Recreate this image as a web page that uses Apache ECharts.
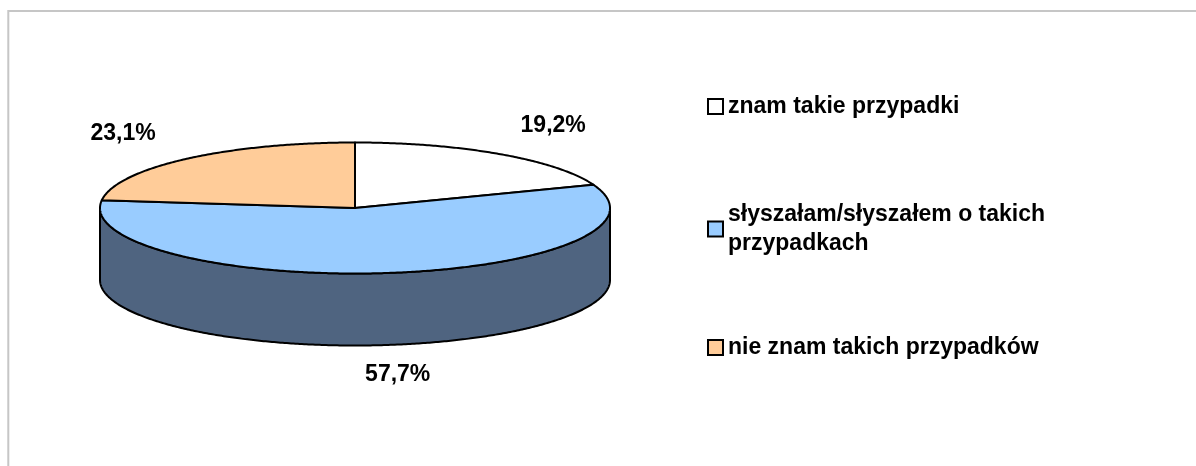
<!DOCTYPE html>
<html>
<head>
<meta charset="utf-8">
<style>
    html, body { margin: 0; padding: 0; background: #fff; }
    #chart { width: 1196px; height: 466px; }
</style>
</head>
<body>
<div id="chart"></div>
<script src="https://cdn.jsdelivr.net/npm/echarts@6/dist/echarts.min.js"></script>
<script>
// dane
const categories = ['znam takie przypadki', 'słyszałam/słyszałem o takich przypadkach', 'nie znam takich przypadków'];
const values = [19.2, 57.7, 23.1];
const valueLabels = ['19,2%', '57,7%', '23,1%'];

const topColors = ['#FFFFFF', '#99CCFF', '#FFCC99'];   // wierzch
const sideColors = ['#808080', '#4F6480', '#80664D'];  // bok
const FontFamily = '"Liberation Sans", Arial, sans-serif';
const FontSize = 23;

const chart = echarts.init(document.getElementById('chart'));

// geometria "3D" elipsy
const pie = { cx: 355, cy: 208, rx: 255, ry: 65.5, depth: 72 };
const total = values.reduce((a, b) => a + b, 0);

function sliceAngles(index) {
    let before = 0;
    for (let i = 0; i < index; i++) before += values[i];
    const start = 90 - before / total * 360;
    const end = start - values[index] / total * 360;
    return [start, end]; // stopnie, zgodnie z ruchem wskazówek
}

function pointAt(deg, dy) {
    const r = deg * Math.PI / 180;
    return [pie.cx + pie.rx * Math.cos(r), pie.cy - pie.ry * Math.sin(r) + (dy || 0)];
}

function arc(from, to, dy) {
    const pts = [];
    const n = Math.max(2, Math.ceil(Math.abs(to - from) * 2));
    for (let k = 0; k <= n; k++) pts.push(pointAt(from + (to - from) * k / n, dy));
    return pts;
}

const strokeStyle = { stroke: '#000', lineWidth: 2, lineJoin: 'round' };

function renderSlice(params, api) {
    const i = params.seriesIndex;
    const [start, end] = sliceAngles(i);
    const children = [];

    // widoczny bok (przednia połowa elipsy)
    const lo = Math.max(end, -180);
    const hi = Math.min(start, 0);
    if (lo < hi) {
        const pts = arc(hi, lo, 0).concat(arc(lo, hi, pie.depth));
        children.push({
            type: 'polygon',
            z2: 1,
            shape: { points: pts },
            style: Object.assign({ fill: sideColors[i] }, strokeStyle)
        });
    }

    // wierzch
    const topPts = [[pie.cx, pie.cy]].concat(arc(start, end, 0));
    children.push({
        type: 'polygon',
        z2: 5,
        shape: { points: topPts },
        style: Object.assign({ fill: topColors[i] }, strokeStyle)
    });

    // etykieta
    const mid = (start + end) / 2 * Math.PI / 180;
    const s = Math.sin(mid);
    children.push({
        type: 'text',
        z2: 10,
        x: pie.cx + 1.37 * pie.rx * Math.cos(mid),
        y: pie.cy - 1.52 * pie.ry * s + (s < 0 ? pie.depth - 4 : 0),
        style: {
            text: valueLabels[i],
            fill: '#000',
            fontFamily: FontFamily,
            fontWeight: 'bold',
            fontSize: FontSize,
            align: 'center',
            verticalAlign: 'middle'
        }
    });

    return { type: 'group', children };
}

const series = categories.map((name, i) => ({
    name,
    type: 'custom',
    coordinateSystem: 'none',
    itemStyle: { color: topColors[i] },
    data: [values[i]],
    renderItem: renderSlice
}));

const legendTops = [92, 185.5, 333];
const legend = categories.map((name, i) => ({
    data: [name],
    orient: 'vertical',
    left: 707,
    top: legendTops[i],
    padding: 0,
    itemWidth: 15,
    itemHeight: 15,
    icon: 'rect',
    selectedMode: false,
    itemStyle: { borderColor: '#000', borderWidth: 2 },
    formatter: n => n.replace(' o takich ', ' o takich\n'),
    textStyle: {
        color: '#000',
        fontFamily: FontFamily,
        fontWeight: 'bold',
        fontSize: FontSize,
        lineHeight: 29,
        padding: name.indexOf(' o takich ') >= 0 ? [29, 0, 0, 0] : 0
    }
}));

const option = {
    animation: false,
    backgroundColor: '#fff',
    graphic: [{
        type: 'rect',
        silent: true,
        z: -1,
        shape: { x: 8.3, y: 11, width: 1400, height: 700 },
        style: { fill: 'none', stroke: '#C6C6C6', lineWidth: 2 }
    }],
    legend,
    series
};

chart.setOption(option);
</script>
</body>
</html>
